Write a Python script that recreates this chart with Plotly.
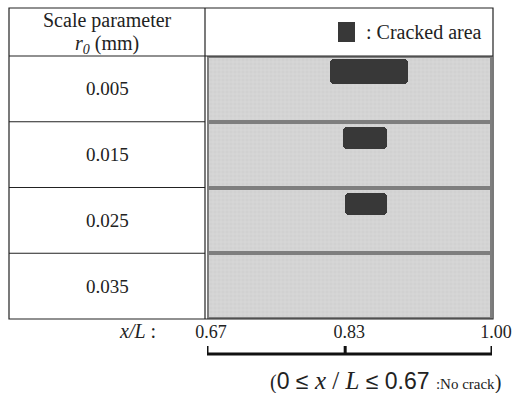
import plotly.graph_objects as go

# ---- data ----
scale_params = ["0.005", "0.015", "0.025", "0.035"]
xl_ticks = [0.67, 0.83, 1.00]
xl_ticktext = ["0.67", "0.83", "1.00"]
crack_start = [0.812, 0.828, 0.830]   # x/L where the cracked area begins (rows 0..2)
crack_end = [0.903, 0.878, 0.878]     # x/L where the cracked area ends
crack_top = [0.05, 0.08, 0.09]        # fraction of the row height (from top)
crack_bottom = [0.43, 0.42, 0.42]

W, H = 516, 393
def px(x):
    return x / W
def py(y):
    return 1 - y / H

SERIF = "Liberation Serif"
fig = go.Figure()

# gray cells (one per row)
rows = list(range(len(scale_params)))
fig.add_trace(go.Bar(
    y=rows, x=[xl_ticks[-1] - xl_ticks[0]] * len(rows), base=[xl_ticks[0]] * len(rows),
    orientation="h", width=1.0,
    marker=dict(color="#d4d4d4", line=dict(color="#7e7e7e", width=4),
                pattern=dict(shape="+", size=4, solidity=0.25, fgcolor="#e4e4e4", bgcolor="#d1d1d1")),
    hoverinfo="skip", showlegend=False))

# cracked areas
cy = [i - 0.5 + (t + b) / 2 for i, (t, b) in enumerate(zip(crack_top, crack_bottom))]
cw = [b - t for t, b in zip(crack_top, crack_bottom)]
fig.add_trace(go.Bar(
    y=cy, x=[e - s for s, e in zip(crack_start, crack_end)], base=crack_start,
    orientation="h", width=cw,
    marker=dict(color="#383838", line=dict(width=0), cornerradius=4),
    hoverinfo="skip", showlegend=False))

shapes = []
L, R, T, B = 9, 493, 8, 319
DIV = 205
shapes.append(dict(type="rect", xref="paper", yref="paper", x0=px(L), x1=px(R), y0=py(B), y1=py(T),
                   line=dict(color="#222", width=1.2)))
shapes.append(dict(type="line", xref="paper", yref="paper", x0=px(DIV), x1=px(DIV), y0=py(B), y1=py(T),
                   line=dict(color="#222", width=1.2)))
shapes.append(dict(type="line", xref="paper", yref="paper", x0=px(L), x1=px(R), y0=py(56), y1=py(56),
                   line=dict(color="#222", width=1.2)))
for i in range(len(scale_params) - 1):
    shapes.append(dict(type="line", xref="paper", yref="y", x0=px(L), x1=px(DIV), y0=i + 0.5, y1=i + 0.5,
                       line=dict(color="#222", width=1.2)))
by = py(354)
bt = py(346)
shapes.append(dict(type="line", xref="x", yref="paper", x0=xl_ticks[0], x1=xl_ticks[-1], y0=by, y1=by,
                   line=dict(color="#111", width=3)))
for v in xl_ticks:
    shapes.append(dict(type="line", xref="x", yref="paper", x0=v, x1=v, y0=by, y1=bt,
                       line=dict(color="#111", width=3)))
shapes.append(dict(type="rect", xref="paper", yref="paper", x0=px(338), x1=px(355), y0=py(42), y1=py(22),
                   fillcolor="#383838", line=dict(width=0)))

FONT = dict(family=SERIF, size=19, color="#222")
FONT_H = dict(family=SERIF, size=20, color="#222")
annotations = []
annotations.append(dict(x=px(107), y=py(21), xref="paper", yref="paper", text="Scale parameter",
                        xanchor="center", yanchor="middle", showarrow=False, font=FONT_H))
annotations.append(dict(x=px(107), y=py(44), xref="paper", yref="paper",
                        text="<i>r<sub>0</sub></i> (mm)",
                        xanchor="center", yanchor="middle", showarrow=False, font=FONT_H))
for i, s in enumerate(scale_params):
    annotations.append(dict(x=px(107), y=i, xref="paper", yref="y", text=s, showarrow=False,
                            xanchor="center", yanchor="middle", font=FONT))
annotations.append(dict(x=px(364), y=py(32), xref="paper", yref="paper", text=": Cracked area",
                        xanchor="left", yanchor="middle", showarrow=False, font=FONT_H))
annotations.append(dict(x=px(158), y=py(331), xref="paper", yref="paper", text="<i>x/L</i> :",
                        xanchor="right", yanchor="middle", showarrow=False, font=FONT_H))
annotations.append(dict(
    x=px(503), y=py(380), xref="paper", yref="paper", xanchor="right", yanchor="middle", showarrow=False,
    text=("<span style='font-size:20px'>(</span>"
          "<span style='font-family:Liberation Sans;font-size:23px'>0 ≤ </span>"
          "<i>x</i> / <i>L</i>"
          "<span style='font-family:Liberation Sans;font-size:23px'> ≤ 0.67 </span>"
          "<span style='font-size:15px'>:No crack</span>"
          "<span style='font-size:20px'>)</span>"),
    font=dict(family=SERIF, size=25, color="#222")))

fig.update_layout(
    width=W, height=H, autosize=False, margin=dict(l=0, r=0, t=0, b=0, pad=0, autoexpand=False),
    paper_bgcolor="white", plot_bgcolor="white",
    barmode="overlay", bargap=0,
    shapes=shapes, annotations=annotations,
    xaxis=dict(domain=[px(207), px(492)], range=[xl_ticks[0], xl_ticks[-1]], automargin=False,
               tickvals=xl_ticks, ticktext=xl_ticktext, showgrid=False, zeroline=False,
               showline=False, ticks="", ticklabelshift=4, ticklabelstandoff=0,
               tickfont=dict(family=SERIF, size=18, color="#222"), fixedrange=True),
    yaxis=dict(domain=[py(319), py(56)], range=[len(scale_params) - 0.5, -0.5], automargin=False,
               showticklabels=False, showgrid=False, zeroline=False, fixedrange=True),
)
fig.write_html("out.html", config={"responsive": False, "displayModeBar": False},
               default_width="516px", default_height="393px",
               post_script="document.body.style.margin='0';document.body.style.overflow='hidden';")
